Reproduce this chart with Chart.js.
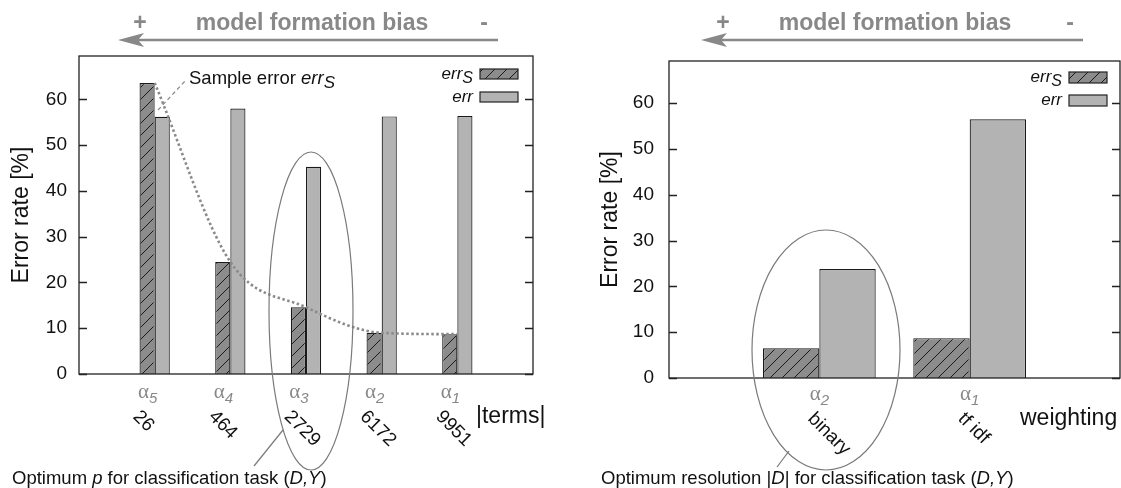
<!DOCTYPE html>
<html>
<head>
<meta charset="utf-8">
<script src="https://cdn.jsdelivr.net/npm/chart.js@4.4.0/dist/chart.umd.min.js"></script>
<style>
  body { margin: 0; background: #fff; width: 1121px; height: 488px; overflow: hidden; position: relative; }
  canvas { position: absolute; top: 0; }
  #termsChart { left: 0; }
  #weightChart { left: 560px; }
</style>
</head>
<body>
<canvas id="termsChart" width="560" height="488"></canvas>
<canvas id="weightChart" width="561" height="488"></canvas>
<script>
// -------------------------------
// Data
// -------------------------------
const termAlphas = ['5', '4', '3', '2', '1'];
const termCounts = ['26', '464', '2729', '6172', '9951'];
const termErrS = [63.6, 24.5, 14.6, 9.0, 8.7];
const termErr = [56.2, 58.0, 45.3, 56.3, 56.4];

const weightAlphas = ['2', '1'];
const weightNames = ['binary', 'tf idf'];
const weightErrS = [6.5, 8.7];
const weightErr = [23.8, 56.5];

const yTicks = [0, 10, 20, 30, 40, 50, 60];

const SANS = '"Liberation Sans", Arial, sans-serif';
const GRAY = '#888';
const INK = '#111';

// -------------------------------
// Helpers
// -------------------------------
function makeHatch(ctx) {
    const p = 12;
    const c = document.createElement('canvas');
    c.width = p; c.height = p;
    const g = c.getContext('2d');
    g.fillStyle = '#8c8c8c';
    g.fillRect(0, 0, p, p);
    g.strokeStyle = '#1a1a1a';
    g.lineWidth = 1;
    g.beginPath();
    g.moveTo(0, p); g.lineTo(p, 0);
    g.moveTo(-1, 1); g.lineTo(1, -1);
    g.moveTo(p - 1, p + 1); g.lineTo(p + 1, p - 1);
    g.stroke();
    return ctx.createPattern(c, 'repeat');
}

// draw a row of text pieces with their own fonts (italics, subscripts)
function drawRuns(ctx, x, y, runs, align) {
    let w = 0;
    runs.forEach(r => { ctx.font = r.font; w += ctx.measureText(r.text).width; });
    let cx = align === 'center' ? x - w / 2 : align === 'right' ? x - w : x;
    ctx.textAlign = 'left';
    runs.forEach(r => {
        ctx.font = r.font;
        ctx.fillText(r.text, cx, y + (r.dy || 0));
        cx += ctx.measureText(r.text).width;
    });
}

const it = size => `italic ${size}px ${SANS}`;
const rm = size => `${size}px ${SANS}`;

// frame, inward ticks, legend and the gray annotations
function decorations(d) {
    return {
        id: 'decorations',
        afterDatasetsDraw(chart) {
            const { ctx, chartArea: a, scales: { x, y } } = chart;
            ctx.save();

            // frame + ticks on both sides
            ctx.strokeStyle = '#222';
            ctx.lineWidth = 1.3;
            ctx.strokeRect(a.left, a.top, a.right - a.left, a.bottom - a.top);
            yTicks.forEach(v => {
                const py = Math.round(y.getPixelForValue(v)) + 0.5;
                ctx.beginPath();
                ctx.moveTo(a.left, py); ctx.lineTo(a.left + 8, py);
                ctx.moveTo(a.right, py); ctx.lineTo(a.right - 8, py);
                ctx.stroke();
            });

            // legend
            const lg = d.legend;
            ctx.fillStyle = INK;
            ctx.textBaseline = 'alphabetic';
            drawRuns(ctx, lg.labelRight, lg.rows[0] + 10, [
                { text: 'err', font: it(17) },
                { text: 'S', font: it(16), dy: 4 }
            ], 'right');
            drawRuns(ctx, lg.labelRight, lg.rows[1] + 10, [{ text: 'err', font: it(17) }], 'right');
            ctx.lineWidth = 1.2;
            ctx.fillStyle = chart.data.datasets[0].backgroundColor;
            ctx.fillRect(lg.boxL, lg.rows[0], 38, lg.boxH);
            ctx.strokeRect(lg.boxL, lg.rows[0], 38, lg.boxH);
            ctx.fillStyle = chart.data.datasets[1].backgroundColor;
            ctx.fillRect(lg.boxL, lg.rows[1], 38, lg.boxH);
            ctx.strokeRect(lg.boxL, lg.rows[1], 38, lg.boxH);

            // x tick labels: alpha row and rotated names
            d.alphas.forEach((al, i) => {
                const px = x.getPixelForValue(i + 1);
                ctx.fillStyle = GRAY;
                drawRuns(ctx, px + d.alphaDx, d.alphaY, [
                    { text: 'α', font: `21px "Liberation Serif", serif` },
                    { text: al, font: it(15), dy: 5 }
                ], 'center');
                ctx.save();
                ctx.fillStyle = INK;
                ctx.font = rm(19);
                ctx.textBaseline = 'top';
                ctx.translate(px + d.nameDx, d.nameY);
                ctx.rotate(Math.PI / 4);
                ctx.fillText(d.names[i], 0, 0);
                ctx.restore();
            });
            ctx.fillStyle = INK;
            ctx.font = rm(23);
            ctx.fillText(d.axisName, d.axisNameX, d.axisNameY);

            // bias heading and arrow
            ctx.fillStyle = GRAY;
            ctx.font = `bold 23px ${SANS}`;
            ctx.textAlign = 'center';
            ctx.fillText('model formation bias', d.titleX, 30);
            ctx.fillText('+', d.plusX, 30);
            ctx.fillText('-', d.minusX, 30);
            ctx.strokeStyle = GRAY;
            ctx.lineWidth = 2.5;
            ctx.beginPath();
            ctx.moveTo(d.arrowR, 40); ctx.lineTo(d.arrowL + 14, 40);
            ctx.stroke();
            ctx.beginPath();
            ctx.moveTo(d.arrowL, 40);
            ctx.lineTo(d.arrowL + 26, 33);
            ctx.lineTo(d.arrowL + 20, 40);
            ctx.lineTo(d.arrowL + 26, 47);
            ctx.closePath();
            ctx.fill();

            // ellipse around the optimum and its note
            const [ex, ey, rx, ry] = d.ellipse;
            ctx.strokeStyle = '#7a7a7a';
            ctx.lineWidth = 1.2;
            ctx.beginPath();
            ctx.ellipse(ex, ey, rx, ry, 0, 0, Math.PI * 2);
            ctx.stroke();
            ctx.beginPath();
            ctx.moveTo(d.leader[0], d.leader[1]);
            ctx.lineTo(d.leader[2], d.leader[3]);
            ctx.stroke();
            ctx.fillStyle = INK;
            drawRuns(ctx, d.noteX, 484, d.note, 'left');

            if (d.extra) d.extra(ctx);
            ctx.restore();
        }
    };
}

function yAxis(max, width, pad, titlePad) {
    return {
        min: 0,
        max: max,
        afterBuildTicks: s => { s.ticks = s.ticks.filter(t => t.value % 10 === 0); },
        afterFit: s => { s.width = width; },
        grid: { display: false, drawTicks: false },
        border: { display: false },
        ticks: { stepSize: 10, padding: pad, color: INK, font: { family: SANS, size: 19 } },
        title: {
            display: true,
            text: 'Error rate [%]',
            color: INK,
            font: { family: SANS, size: 23 },
            padding: { top: titlePad, bottom: 0 }
        }
    };
}

function xAxis(max, height) {
    return {
        type: 'linear',
        min: 0,
        max: max,
        offset: false,
        afterFit: s => { s.height = height; },
        grid: { display: false, drawTicks: false },
        border: { display: false },
        ticks: { display: false, stepSize: 1 }
    };
}

const points = arr => arr.map((v, i) => ({ x: i + 1, y: v }));

const noteSize = 18.5;

// -------------------------------
// Left chart: number of terms
// -------------------------------
const leftCtx = document.getElementById('termsChart').getContext('2d');
new Chart(leftCtx, {
    type: 'bar',
    data: {
        datasets: [
            {
                label: 'errS', data: points(termErrS), order: 1,
                backgroundColor: makeHatch(leftCtx), borderColor: '#1a1a1a', borderWidth: 1.2,
                categoryPercentage: 0.4, barPercentage: 1
            },
            {
                label: 'err', data: points(termErr), order: 1,
                backgroundColor: '#b3b3b3', borderColor: '#1a1a1a', borderWidth: 1.2,
                categoryPercentage: 0.4, barPercentage: 1
            },
            {
                type: 'line', label: 'sample error trend', data: points(termErrS), order: 0,
                borderColor: '#8a8a8a', borderWidth: 2.6, borderDash: [2.5, 2.5],
                cubicInterpolationMode: 'monotone', pointRadius: 0, fill: false
            }
        ]
    },
    options: {
        responsive: false,
        animation: false,
        events: [],
        layout: { padding: { top: 56, right: 27, bottom: 0, left: 0 } },
        plugins: { legend: { display: false }, tooltip: { enabled: false } },
        scales: { x: xAxis(6, 114), y: yAxis(69.5, 79, 12, 8) }
    },
    plugins: [decorations({
        alphas: termAlphas, names: termCounts,
        alphaDx: -7, alphaY: 398, nameDx: -12, nameY: 407,
        axisName: '|terms|', axisNameX: 476, axisNameY: 423,
        legend: { labelRight: 473, boxL: 480, rows: [69, 92], boxH: 10 },
        titleX: 312, plusX: 140, minusX: 484, arrowL: 118, arrowR: 498,
        ellipse: [311, 311, 42, 159],
        leader: [254, 466, 283, 430],
        noteX: 12,
        note: [
            { text: 'Optimum ', font: rm(noteSize) },
            { text: 'p', font: it(noteSize) },
            { text: ' for classification task (', font: rm(noteSize) },
            { text: 'D,Y', font: it(noteSize) },
            { text: ')', font: rm(noteSize) }
        ],
        extra: ctx => {
            ctx.fillStyle = INK;
            drawRuns(ctx, 189, 84, [
                { text: 'Sample error ', font: rm(18.5) },
                { text: 'err', font: it(18.5) },
                { text: 'S', font: it(17), dy: 4 }
            ], 'left');
            ctx.strokeStyle = GRAY;
            ctx.lineWidth = 1.2;
            ctx.setLineDash([4, 3]);
            ctx.beginPath();
            ctx.moveTo(158, 110); ctx.lineTo(186, 80);
            ctx.stroke();
            ctx.setLineDash([]);
        }
    })]
});

// -------------------------------
// Right chart: term weighting
// -------------------------------
const rightCtx = document.getElementById('weightChart').getContext('2d');
new Chart(rightCtx, {
    type: 'bar',
    data: {
        datasets: [
            {
                label: 'errS', data: points(weightErrS),
                backgroundColor: makeHatch(rightCtx), borderColor: '#1a1a1a', borderWidth: 1.2,
                categoryPercentage: 0.75, barPercentage: 1
            },
            {
                label: 'err', data: points(weightErr),
                backgroundColor: '#b3b3b3', borderColor: '#1a1a1a', borderWidth: 1.2,
                categoryPercentage: 0.75, barPercentage: 1
            }
        ]
    },
    options: {
        responsive: false,
        animation: false,
        events: [],
        layout: { padding: { top: 61, right: 1, bottom: 0, left: 0 } },
        plugins: { legend: { display: false }, tooltip: { enabled: false } },
        scales: { x: xAxis(3, 110), y: yAxis(69.2, 109, 15, 37) }
    },
    plugins: [decorations({
        alphas: weightAlphas, names: weightNames,
        alphaDx: 0, alphaY: 400, nameDx: -2, nameY: 409,
        axisName: 'weighting', axisNameX: 460, axisNameY: 425,
        legend: { labelRight: 502, boxL: 509, rows: [72, 95], boxH: 11 },
        titleX: 335, plusX: 163, minusX: 510, arrowL: 141, arrowR: 523,
        ellipse: [266, 350, 74, 120],
        leader: [217, 467, 229, 451],
        noteX: 41,
        note: [
            { text: 'Optimum resolution |', font: rm(noteSize) },
            { text: 'D', font: it(noteSize) },
            { text: '| for classification task (', font: rm(noteSize) },
            { text: 'D,Y', font: it(noteSize) },
            { text: ')', font: rm(noteSize) }
        ]
    })]
});
</script>
</body>
</html>
